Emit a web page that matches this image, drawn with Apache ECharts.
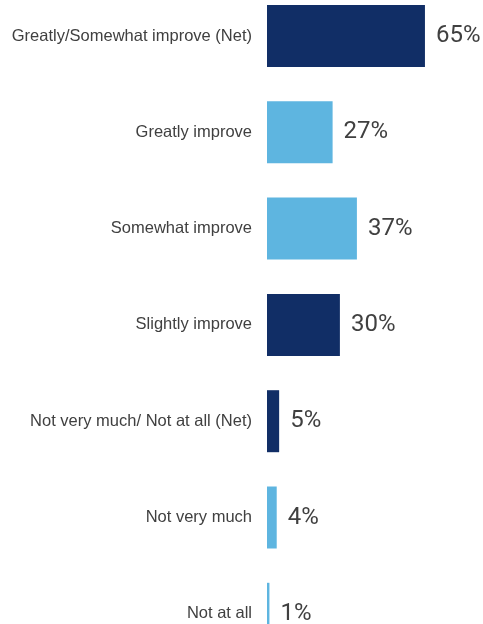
<!DOCTYPE html>
<html>
<head>
<meta charset="utf-8">
<script src="https://cdn.jsdelivr.net/npm/echarts@6/dist/echarts.min.js"></script>
<style>
  html, body { margin: 0; padding: 0; background: #ffffff; }
  #chart { width: 483px; height: 624px; }
</style>
</head>
<body>
<div id="chart"></div>
<script>
// Categories from top to bottom
const categories = [
  'Greatly/Somewhat improve (Net)',
  'Greatly improve',
  'Somewhat improve',
  'Slightly improve',
  'Not very much/ Not at all (Net)',
  'Not very much',
  'Not at all'
];
// Percentages for each category
const values = [65, 27, 37, 30, 5, 4, 1];
// Net rows use the dark shade, component rows the light shade
const isNet = [true, false, false, true, true, false, false];

const DARK = '#112e66';
const LIGHT = '#5eb5e0';

const chart = echarts.init(document.getElementById('chart'), null, { renderer: 'canvas' });

chart.setOption({
  animation: false,
  backgroundColor: '#ffffff',
  grid: {
    left: 267, right: 21.6, top: -12.15, bottom: -37.95,
    outerBoundsMode: 'none',
    containLabel: false
  },
  xAxis: {
    type: 'value', min: 0, max: 80,
    show: false
  },
  yAxis: {
    type: 'category',
    data: categories,
    inverse: true,
    axisLine: { show: false },
    axisTick: { show: false },
    axisLabel: {
      margin: 15,
      color: '#404040',
      fontFamily: 'Liberation Sans',
      fontSize: 16.5,
      padding: [3, 0, 0, 0]
    }
  },
  series: [{
    type: 'bar',
    barWidth: 62,
    data: values.map((v, i) => ({
      value: v,
      itemStyle: { color: isNet[i] ? DARK : LIGHT }
    })),
    label: {
      show: true,
      position: 'right',
      distance: 11,
      color: '#404040',
      fontFamily: 'Roboto',
      fontSize: 24,
      padding: [3, 0, 0, 0],
      formatter: p => p.value + '%'
    }
  }]
});
</script>
</body>
</html>
